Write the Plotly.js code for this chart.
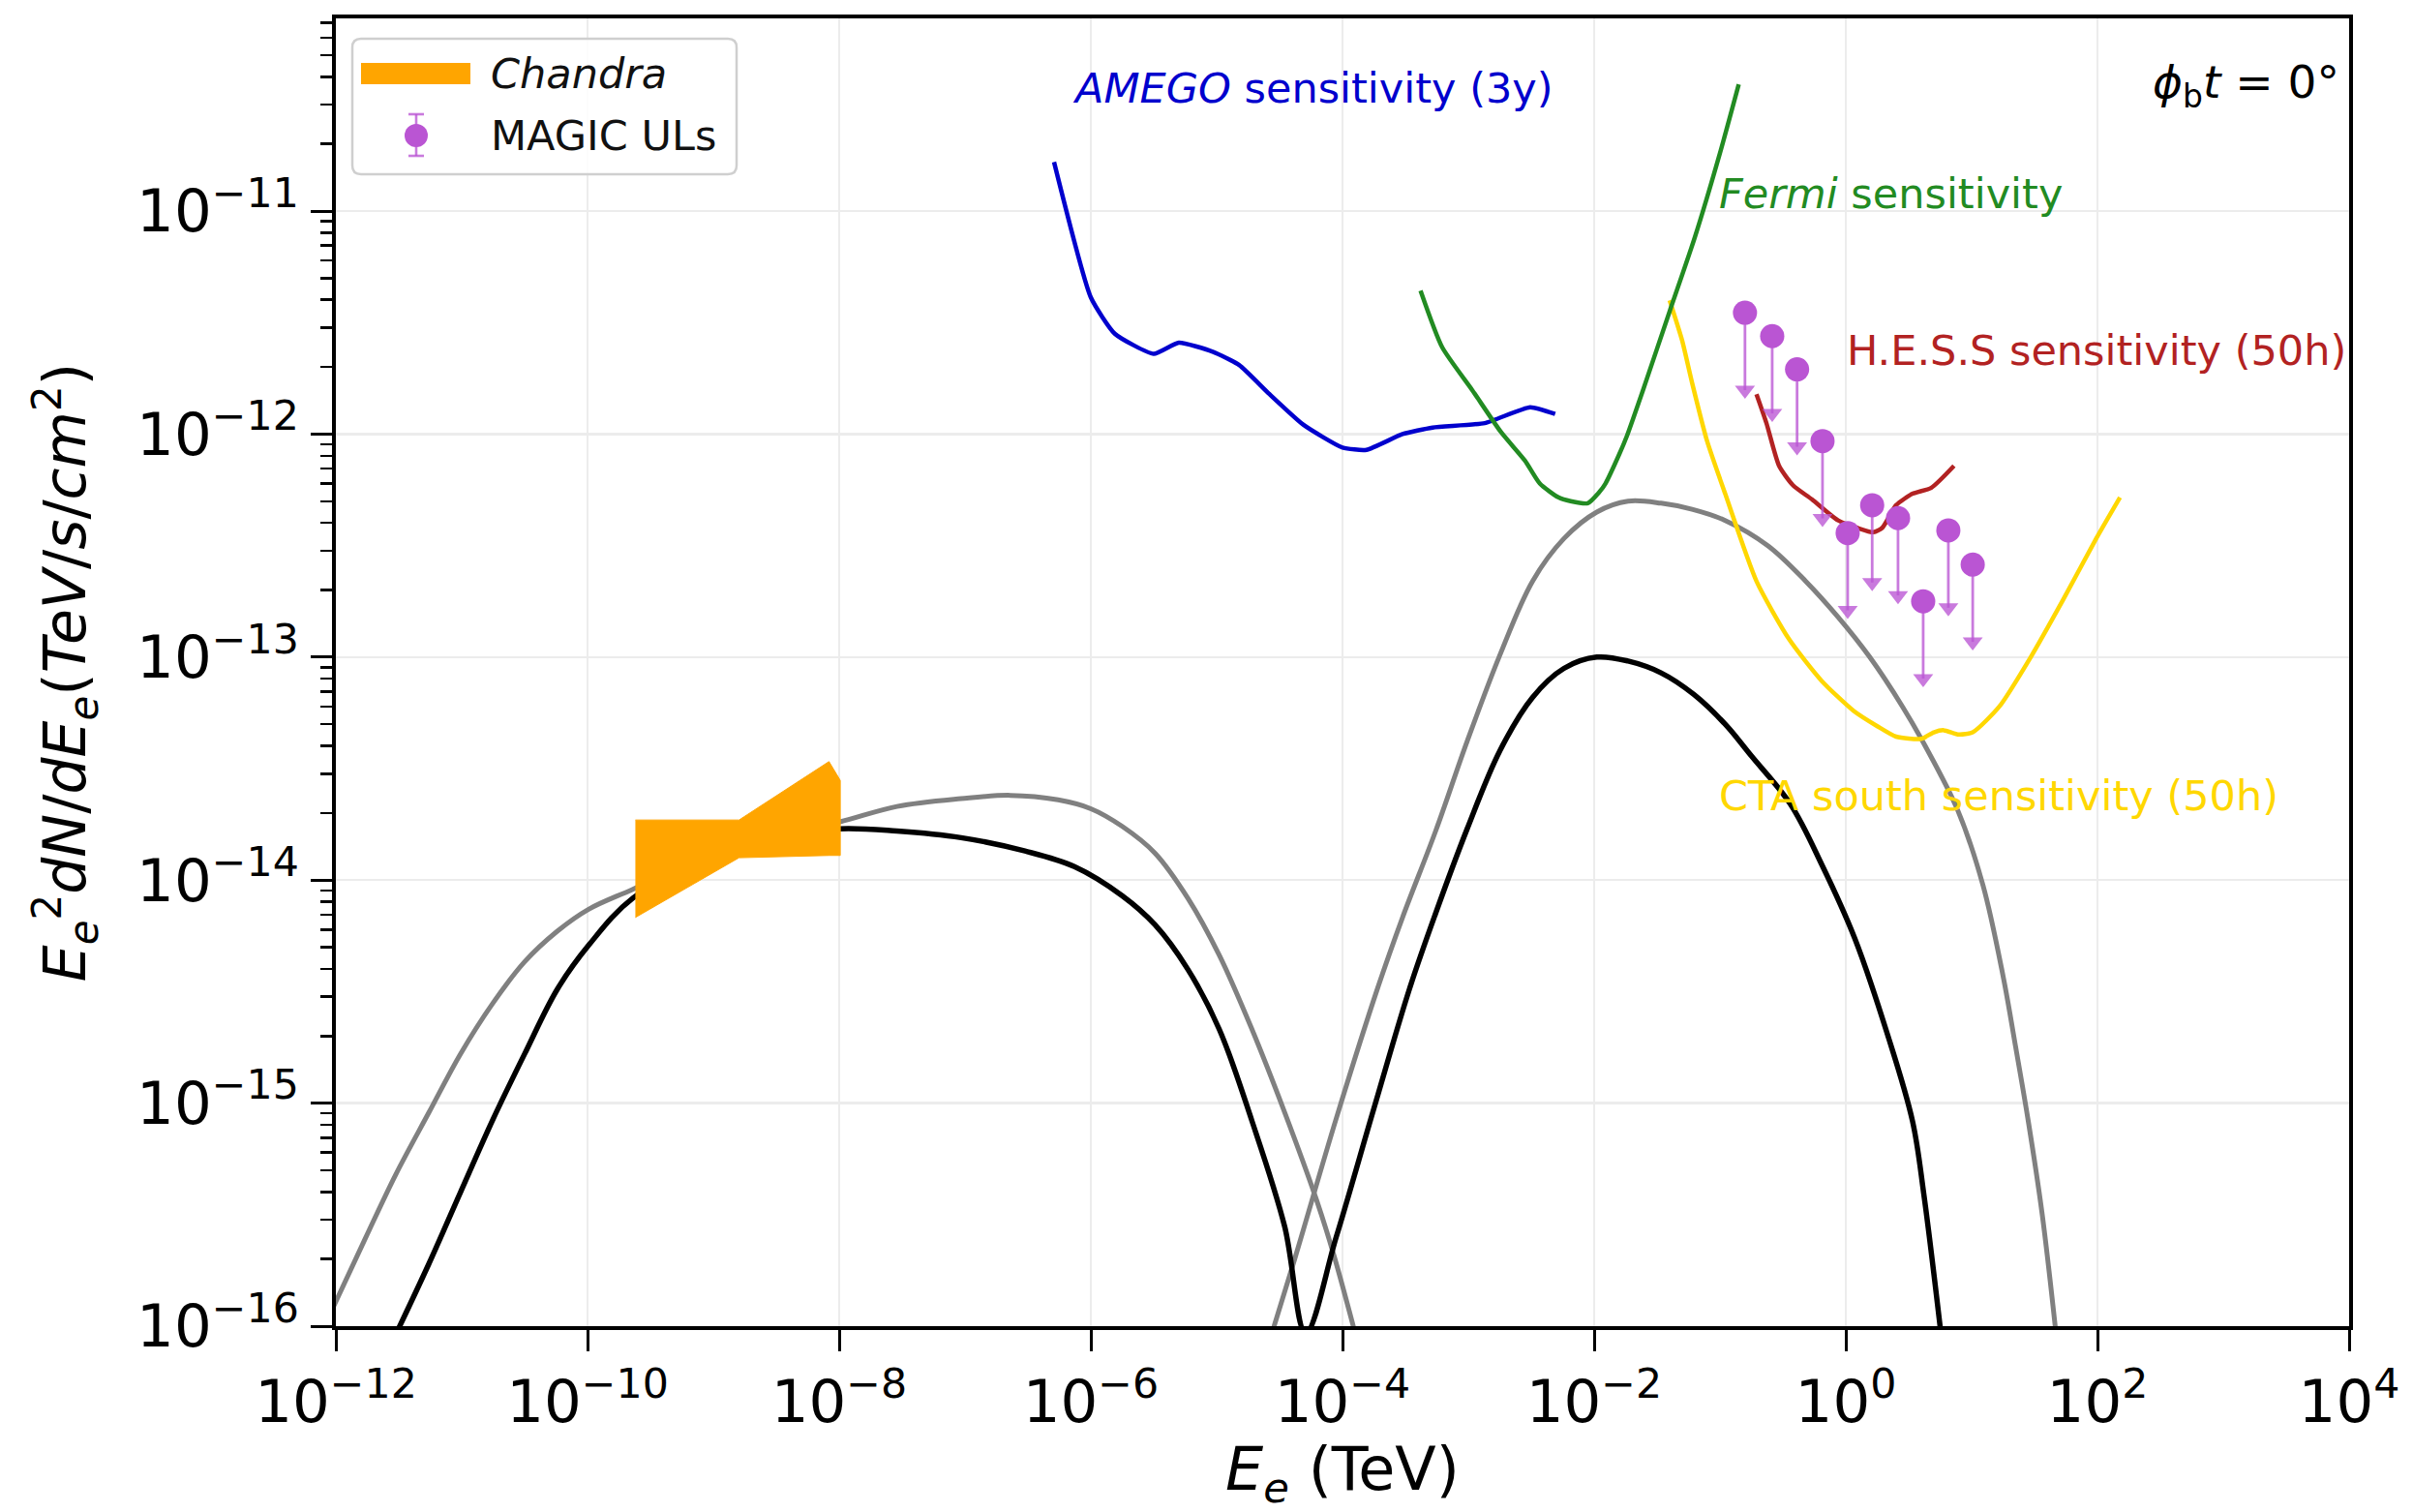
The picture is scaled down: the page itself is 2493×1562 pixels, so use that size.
<!DOCTYPE html>
<html>
<head>
<meta charset="utf-8">
<script src="https://cdn.plot.ly/plotly-3.0.1.min.js"></script>
<style>html,body{margin:0;padding:0;background:#fff}</style>
</head>
<body>
<div id="chart" style="width:2493px;height:1562px"></div>
<script>
// ---- Model SED, black curve (synchrotron + inverse Compton) ----
const blackE = [2.75e-12, 5.5e-12, 9.77e-12, 1.78e-11, 3.16e-11, 5.75e-11, 1.02e-10, 2.29e-10, 1.0e-9, 3.16e-9,
  1.0e-8, 2.88e-8, 9.3e-8, 3.0e-7, 7.4e-7, 1.78e-6, 3.24e-6, 5.9e-6, 1.05e-5, 1.91e-5, 3.47e-5, 5.1e-5,
  8.9e-5, 1.78e-4, 3.4e-4, 5.5e-4, 9.8e-4, 1.78e-3, 3.24e-3, 5.75e-3, 1.05e-2, 1.86e-2, 3.4e-2, 6.2e-2,
  0.11, 0.178, 0.363, 0.646, 1.175, 2.14, 3.39, 4.17, 5.75];
const blackFlux = [8.3e-17, 1.91e-16, 3.98e-16, 8.5e-16, 1.66e-15, 3.24e-15, 5.1e-15, 8.3e-15, 1.29e-14, 1.55e-14,
  1.70e-14, 1.66e-14, 1.55e-14, 1.35e-14, 1.15e-14, 8.5e-15, 6.3e-15, 3.98e-15, 2.14e-15, 8.3e-16, 2.8e-16, 9.3e-17,
  2.5e-16, 9.5e-16, 3.24e-15, 7.1e-15, 1.70e-14, 3.8e-14, 6.6e-14, 8.9e-14, 1.0e-13, 9.6e-14, 8.5e-14, 6.8e-14,
  5.0e-14, 3.6e-14, 2.19e-14, 1.17e-14, 5.5e-15, 2.04e-15, 8.3e-16, 3.9e-16, 8.9e-17];

// ---- Model SED, grey curves ----
const greySynE = [8.9e-13, 1.70e-12, 3.0e-12, 5.5e-12, 9.77e-12, 1.78e-11, 3.16e-11, 5.75e-11, 1.02e-10, 2.29e-10,
  1.0e-9, 3.16e-9, 1.0e-8, 2.88e-8, 9.3e-8, 2.29e-7, 5.5e-7, 1.0e-6, 1.78e-6, 3.24e-6, 5.9e-6, 1.05e-5,
  1.91e-5, 3.47e-5, 6.2e-5, 8.5e-5, 1.26e-4];
const greySynFlux = [1.12e-16, 2.45e-16, 4.8e-16, 9.1e-16, 1.66e-15, 2.82e-15, 4.3e-15, 5.9e-15, 7.4e-15, 9.1e-15,
  1.32e-14, 1.58e-14, 1.82e-14, 2.14e-14, 2.32e-14, 2.4e-14, 2.29e-14, 2.09e-14, 1.74e-14, 1.32e-14, 8.3e-15, 4.6e-15,
  2.14e-15, 9.1e-16, 3.7e-16, 2.1e-16, 9.3e-17];
const greyIcE = [2.75e-5, 4.17e-5, 8.9e-5, 1.91e-4, 3.0e-4, 5.5e-4, 9.8e-4, 1.78e-3, 3.24e-3, 5.75e-3, 1.05e-2,
  1.86e-2, 3.4e-2, 6.0e-2, 0.11, 0.24, 0.48, 0.87, 1.55, 2.82, 4.27, 7.8, 12.3, 17.8, 22.4, 28.2, 36.3, 46.8];
const greyIcFlux = [9.3e-17, 2.0e-16, 8.5e-16, 3.3e-15, 6.8e-15, 1.66e-14, 4.2e-14, 1.02e-13, 2.19e-13, 3.4e-13, 4.47e-13,
  5.0e-13, 4.9e-13, 4.6e-13, 4.1e-13, 3.16e-13, 2.19e-13, 1.51e-13, 1.0e-13, 6.0e-14, 4.0e-14, 2.04e-14, 9.5e-15,
  3.7e-15, 1.78e-15, 8.3e-16, 3.2e-16, 9.3e-17];

// ---- Chandra X-ray butterfly ----
const chandraE = [2.4e-10, 1.6e-9, 8.3e-9, 1.02e-8];
const chandraUpper = [1.86e-14, 1.86e-14, 3.4e-14, 2.8e-14];
const chandraLower = [6.8e-15, 1.26e-14, 1.29e-14, 1.29e-14];

// ---- Instrument sensitivities ----
const amegoE = [5.1e-7, 1.0e-6, 1.55e-6, 3.16e-6, 5.0e-6, 9.3e-6, 1.51e-5, 2.63e-5, 4.9e-5, 1.0e-4, 1.55e-4,
  3.0e-4, 5.2e-4, 1.35e-3, 3.1e-3, 4.9e-3];
const amegoFlux = [1.66e-11, 4.1e-12, 2.82e-12, 2.29e-12, 2.57e-12, 2.34e-12, 2.04e-12, 1.51e-12, 1.10e-12, 8.7e-13, 8.5e-13,
  1.0e-12, 1.07e-12, 1.12e-12, 1.32e-12, 1.23e-12];
const fermiE = [4.17e-4, 6.2e-4, 1.07e-3, 1.82e-3, 2.82e-3, 3.7e-3, 5.2e-3, 6.5e-3, 8.9e-3, 1.10e-2, 1.23e-2,
  1.58e-2, 1.82e-2, 2.45e-2, 3.98e-2, 6.3e-2, 0.1, 0.141];
const fermiFlux = [4.4e-12, 2.45e-12, 1.58e-12, 1.02e-12, 7.6e-13, 6.0e-13, 5.2e-13, 5.0e-13, 4.9e-13, 5.5e-13, 6.0e-13,
  8.1e-13, 9.8e-13, 1.58e-12, 3.55e-12, 7.6e-12, 1.82e-11, 3.7e-11];
const hessE = [0.195, 0.234, 0.295, 0.38, 0.537, 0.87, 1.23, 1.66, 1.95, 2.51, 3.39, 4.79, 7.24];
const hessFlux = [1.51e-12, 1.12e-12, 7.2e-13, 5.9e-13, 5.1e-13, 4.1e-13, 3.8e-13, 3.63e-13, 3.8e-13, 4.8e-13,
  5.4e-13, 5.75e-13, 7.2e-13];
const ctaE = [3.98e-2, 5.0e-2, 6.0e-2, 7.9e-2, 0.11, 0.195, 0.355, 0.646, 1.15, 1.78, 2.51, 3.98, 5.0, 6.0, 7.9,
  10.2, 16.6, 29.5, 53.7, 97.7, 151];
const ctaFlux = [3.98e-12, 2.63e-12, 1.70e-12, 9.3e-13, 5.4e-13, 2.19e-13, 1.20e-13, 7.8e-14, 5.75e-14, 4.9e-14,
  4.4e-14, 4.3e-14, 4.6e-14, 4.7e-14, 4.5e-14, 4.6e-14, 6.0e-14, 1.0e-13, 1.82e-13, 3.4e-13, 5.2e-13];

// ---- MAGIC upper limits ----
const magicE = [0.158, 0.26, 0.41, 0.653, 1.035, 1.62, 2.6, 4.12, 6.53, 10.2];
const magicUL = [3.5e-12, 2.75e-12, 1.95e-12, 9.3e-13, 3.6e-13, 4.8e-13, 4.2e-13, 1.78e-13, 3.7e-13, 2.6e-13];

// ---- Axis ticks ----
const xTickVals = [1e-12, 1e-10, 1e-8, 1e-6, 1e-4, 1e-2, 1e0, 1e2, 1e4];
const xTickText = ['10<sup>−12</sup>', '10<sup>−10</sup>', '10<sup>−8</sup>', '10<sup>−6</sup>', '10<sup>−4</sup>',
  '10<sup>−2</sup>', '10<sup>0</sup>', '10<sup>2</sup>', '10<sup>4</sup>'];
const yTickVals = [1e-16, 1e-15, 1e-14, 1e-13, 1e-12, 1e-11];
const yTickText = ['10<sup>−16</sup>', '10<sup>−15</sup>', '10<sup>−14</sup>', '10<sup>−13</sup>',
  '10<sup>−12</sup>', '10<sup>−11</sup>'];

// length of the upper-limit arrows, as a fraction of the limit value
const arrowFrac = 0.55;

const FONT = 'DejaVu Sans, sans-serif';
const ORCHID = 'mediumorchid';
const ORCHID_SOFT = 'rgba(186,85,211,0.78)';

function line(x, y, color, width, smoothing) {
  return {x: x, y: y, type: 'scatter', mode: 'lines', showlegend: false, hoverinfo: 'skip',
          line: {color: color, width: width, shape: 'spline', smoothing: smoothing}};
}

const traces = [
  line(greySynE, greySynFlux, 'grey', 5, 1.0),
  line(greyIcE, greyIcFlux, 'grey', 5, 1.0),
  line(blackE, blackFlux, 'black', 5.5, 1.0),
  {
    x: chandraE.concat(chandraE.slice().reverse()),
    y: chandraUpper.concat(chandraLower.slice().reverse()),
    type: 'scatter', mode: 'lines', fill: 'toself', fillcolor: 'orange',
    line: {color: 'orange', width: 1}, showlegend: false, hoverinfo: 'skip'
  },
  line(ctaE, ctaFlux, 'gold', 4.5, 0.6),
  line(amegoE, amegoFlux, 'mediumblue', 4.5, 0.5),
  line(fermiE, fermiFlux, 'forestgreen', 4.5, 0.6),
  line(hessE, hessFlux, 'firebrick', 4.5, 0.6),
  {
    x: magicE, y: magicUL, type: 'scatter', mode: 'markers', showlegend: false, hoverinfo: 'skip',
    marker: {symbol: 'circle', size: 25, color: ORCHID},
    error_y: {type: 'data', symmetric: false, array: magicUL.map(() => 0),
              arrayminus: magicUL.map(v => v * arrowFrac), color: ORCHID_SOFT, thickness: 2.8, width: 0}
  },
  {
    x: magicE, y: magicUL.map(v => v * (1 - arrowFrac)), type: 'scatter', mode: 'markers',
    showlegend: false, hoverinfo: 'skip',
    marker: {symbol: 'triangle-down', size: 18, color: ORCHID_SOFT}
  }
];

// plot-area geometry in pixels (used for the hand-drawn legend box)
const W = 2493, H = 1562;
const M = {l: 347, r: 66, t: 19, b: 192};
const PW = W - M.l - M.r, PH = H - M.t - M.b;
const px = X => (X - M.l) / PW;
const py = Y => (H - M.b - Y) / PH;

function roundedBox(x0, y0, x1, y1, r) {
  const rx = r / PW, ry = r / PH;
  const a = px(x0), b = px(x1), c = py(y1), d = py(y0);
  return `M${a + rx},${c} L${b - rx},${c} Q${b},${c} ${b},${c + ry} L${b},${d - ry} Q${b},${d} ${b - rx},${d} ` +
         `L${a + rx},${d} Q${a},${d} ${a},${d - ry} L${a},${c + ry} Q${a},${c} ${a + rx},${c} Z`;
}

const shapes = [
  {type: 'path', xref: 'paper', yref: 'paper', path: roundedBox(364, 40, 761, 180, 9),
   fillcolor: 'rgba(255,255,255,0.85)', line: {color: '#cfcfcf', width: 2.5}, layer: 'above'},
  {type: 'rect', xref: 'paper', yref: 'paper', x0: px(373), x1: px(486), y0: py(87), y1: py(65),
   fillcolor: 'orange', line: {width: 0}, layer: 'above'},
  {type: 'line', xref: 'paper', yref: 'paper', x0: px(430), x1: px(430), y0: py(118), y1: py(161),
   line: {color: ORCHID_SOFT, width: 2.6}, layer: 'above'},
  {type: 'line', xref: 'paper', yref: 'paper', x0: px(422), x1: px(438), y0: py(118), y1: py(118),
   line: {color: ORCHID_SOFT, width: 2.6}, layer: 'above'},
  {type: 'line', xref: 'paper', yref: 'paper', x0: px(422), x1: px(438), y0: py(161), y1: py(161),
   line: {color: ORCHID_SOFT, width: 2.6}, layer: 'above'},
  {type: 'circle', xref: 'paper', yref: 'paper', x0: px(418), x1: px(442), y0: py(152), y1: py(128),
   fillcolor: ORCHID, line: {width: 0}, layer: 'above'}
];

const annFont = (c, s) => ({family: FONT, size: s || 43, color: c});
const annotations = [
  {xref: 'paper', yref: 'paper', x: px(505), y: py(76), xanchor: 'left', yanchor: 'middle', showarrow: false,
   text: '<i>Chandra</i>', font: annFont('#111')},
  {xref: 'paper', yref: 'paper', x: px(505), y: py(140), xanchor: 'left', yanchor: 'middle', showarrow: false,
   text: 'MAGIC ULs', font: annFont('#111')},
  {xref: 'paper', yref: 'paper', x: px(1106), y: py(91), xanchor: 'left', yanchor: 'middle', showarrow: false,
   text: '<i>AMEGO</i> sensitivity (3y)', font: annFont('mediumblue')},
  {xref: 'paper', yref: 'paper', x: px(1774), y: py(200), xanchor: 'left', yanchor: 'middle', showarrow: false,
   text: '<i>Fermi</i> sensitivity', font: annFont('forestgreen')},
  {xref: 'paper', yref: 'paper', x: px(1906), y: py(362), xanchor: 'left', yanchor: 'middle', showarrow: false,
   text: 'H.E.S.S sensitivity (50h)', font: annFont('firebrick')},
  {xref: 'paper', yref: 'paper', x: px(1774), y: py(822), xanchor: 'left', yanchor: 'middle', showarrow: false,
   text: 'CTA south sensitivity (50h)', font: annFont('gold')},
  {xref: 'paper', yref: 'paper', x: px(2419), y: py(88), xanchor: 'right', yanchor: 'middle', showarrow: false,
   text: '<i>ϕ</i><sub>b</sub><i>t</i> = 0°', font: annFont('black', 47)}
];

const axisCommon = {
  type: 'log', showline: true, mirror: true, linecolor: 'black', linewidth: 4,
  ticks: 'outside', ticklen: 22, tickwidth: 3, tickcolor: 'black',
  tickmode: 'array', showgrid: true, gridcolor: '#ececec', gridwidth: 2.5, zeroline: false,
  tickfont: {family: FONT, size: 61, color: 'black'}
};

const layout = {
  width: W, height: H, margin: M,
  paper_bgcolor: 'white', plot_bgcolor: 'white',
  font: {family: FONT, color: 'black'},
  showlegend: false,
  xaxis: Object.assign({}, axisCommon, {
    range: [-12, 4], tickvals: xTickVals, ticktext: xTickText,
    title: {text: '<i>E</i><sub><i>e</i></sub> (TeV)', font: {family: FONT, size: 62, color: 'black'}, standoff: 26}
  }),
  yaxis: Object.assign({}, axisCommon, {
    range: [-16, -10.136], tickvals: yTickVals, ticktext: yTickText,
    minor: {ticks: 'outside', ticklen: 12, tickwidth: 2.5, tickcolor: 'black', dtick: 'D1', showgrid: false},
    title: {text: '<i>E</i><sub><i>e</i></sub><sup>2</sup><i>dN</i>/<i>dE</i><sub><i>e</i></sub>(<i>TeV</i>/<i>s</i>/<i>cm</i><sup>2</sup>)',
            font: {family: FONT, size: 60, color: 'black'}, standoff: 34}
  }),
  shapes: shapes,
  annotations: annotations
};

Plotly.newPlot('chart', traces, layout, {staticPlot: true, displayModeBar: false});
</script>
</body>
</html>
